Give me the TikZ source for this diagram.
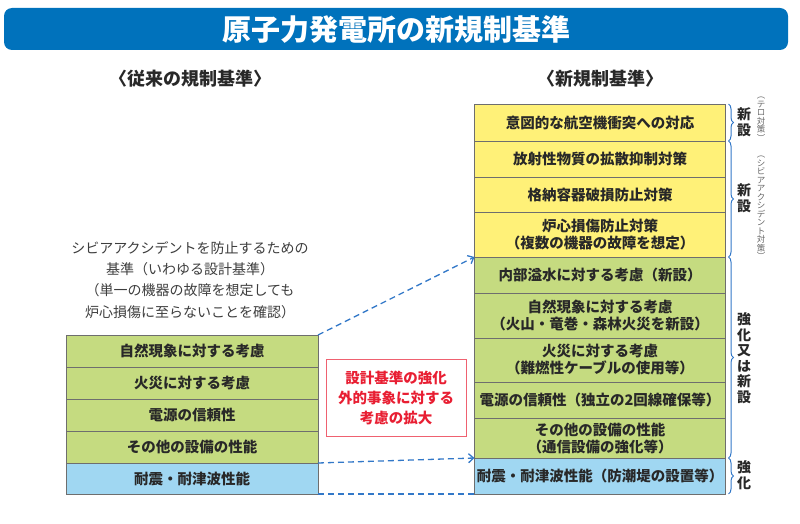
\documentclass[tikz,border=0pt]{standalone}
\usepackage{fontspec}
\setmainfont{Noto Sans CJK JP}
\usetikzlibrary{arrows.meta,positioning,decorations.pathreplacing}
\definecolor{titleblue}{RGB}{0,114,188}
\definecolor{ylw}{RGB}{255,241,120}
\definecolor{grn}{RGB}{197,219,128}
\definecolor{sky}{RGB}{160,215,242}
\definecolor{rim}{RGB}{110,110,110}
\definecolor{linkblue}{RGB}{50,120,200}
\definecolor{alertred}{RGB}{232,30,50}
\definecolor{txt}{RGB}{40,40,40}
\newcommand{\bx}{\fontsize{14.5}{17}\selectfont\bfseries}
\newcommand{\note}{\fontsize{14}{21.3}\selectfont}

\begin{document}
\begin{tikzpicture}[
  x=1pt, y=-1pt,
  >={Straight Barb[length=5pt,width=9pt]},
  cell/.style={draw=rim, line width=0.8pt, minimum width=251pt, inner sep=0pt, outer sep=0pt, align=center, font=\bx, text=txt},
  newrow/.style={cell, fill=ylw},
  oldrow/.style={cell, fill=grn},
  quake/.style={cell, fill=sky},
  link/.style={draw=linkblue, line width=1.3pt, dash pattern=on 6pt off 4pt},
  brc/.style={draw=linkblue, line width=1pt, decorate, decoration={brace, amplitude=5pt}},
  side/.style={font=\fontsize{14}{15.5}\selectfont\bfseries, text=txt, align=center, inner sep=0pt},
  tiny/.style={font=\fontsize{8.5}{8.5}\selectfont, text=gray!80!black, align=center, inner sep=0pt},
  head/.style={font=\fontsize{18}{20}\selectfont\bfseries, text=txt},
]
  \useasboundingbox (0,0) rectangle (800,524);

  % ---------------- title
  \node[fill=titleblue, rounded corners=8pt, minimum width=784pt, minimum height=42pt, text=white,
        font=\fontsize{29}{31}\selectfont\bfseries] (title) at (396,29) {原子力発電所の新規制基準};
  \node[head] (oldhd) at (190,79) {〈従来の規制基準〉};
  \node[head] (newhd) at (600,79) {〈新規制基準〉};

  % ---------------- new standard (right column)
  \node[newrow, anchor=north, minimum height=37pt] (n1) at (600,104) {意図的な航空機衝突への対応};
  \node[newrow, below=0pt of n1, minimum height=36pt] (n2) {放射性物質の拡散抑制対策};
  \node[newrow, below=0pt of n2, minimum height=35pt] (n3) {格納容器破損防止対策};
  \node[newrow, below=0pt of n3, minimum height=45pt] (n4) {炉心損傷防止対策\\（複数の機器の故障を想定）};
  \node[oldrow, below=0pt of n4, minimum height=36pt] (n5) {内部溢水に対する考慮（新設）};
  \node[oldrow, below=0pt of n5, minimum height=45pt] (n6) {自然現象に対する考慮\\（火山・竜巻・森林火災を新設）};
  \node[oldrow, below=0pt of n6, minimum height=44pt] (n7) {火災に対する考慮\\（難燃性ケーブルの使用等）};
  \node[oldrow, below=0pt of n7, minimum height=36pt] (n8) {電源の信頼性（独立の2回線確保等）};
  \node[oldrow, below=0pt of n8, minimum height=40pt] (n9) {その他の設備の性能\\（通信設備の強化等）};
  \node[quake, below=0pt of n9, minimum height=36pt] (n10) {耐震・耐津波性能（防潮堤の設置等）};

  % ---------------- braces and side labels
  \draw[brc] ([xshift=3pt]n1.north east) -- ([xshift=3pt]n1.south east);
  \draw[brc] ([xshift=3pt]n2.north east) -- ([xshift=3pt]n4.south east);
  \draw[brc] ([xshift=3pt]n5.north east) -- ([xshift=3pt]n9.south east);
  \draw[brc] ([xshift=3pt]n10.north east) -- ([xshift=3pt]n10.south east);
  \node[side] (tag1) at (744,122) {新\\設};
  \node[side] (tag2) at (744,198) {新\\設};
  \node[side] (tag3) at (744,358) {強\\化\\又\\は\\新\\設};
  \node[side] (tag4) at (744,475) {強\\化};
  \node[tiny] (terror) at (761,119) {︵\\テ\\ロ\\対\\策\\︶};
  \node[tiny] (severe) at (761,208) {︵\\シ\\ビ\\ア\\ア\\ク\\シ\\デ\\ン\\ト\\対\\策\\︶};

  % ---------------- old standard (left column)
  \node[font=\note, text=txt!90, align=center] (basis) at (190,280)
    {シビアアクシデントを防止するための\\基準（いわゆる設計基準）\\（単一の機器の故障を想定しても\\炉心損傷に至らないことを確認）};
  \node[oldrow, anchor=north, minimum width=252pt, minimum height=32pt] (o1) at (192,335) {自然現象に対する考慮};
  \node[oldrow, below=0pt of o1, minimum width=252pt, minimum height=32pt] (o2) {火災に対する考慮};
  \node[oldrow, below=0pt of o2, minimum width=252pt, minimum height=32pt] (o3) {電源の信頼性};
  \node[oldrow, below=0pt of o3, minimum width=252pt, minimum height=32pt] (o4) {その他の設備の性能};
  \node[quake, below=0pt of o4, minimum width=252pt, minimum height=31pt] (o5) {耐震・耐津波性能};

  % ---------------- links
  \node[draw=alertred!70, line width=1pt, minimum width=140pt, minimum height=77pt, text=alertred, align=center,
        font=\fontsize{14.5}{20}\selectfont\bfseries] (widen) at (396,397.5) {設計基準の強化\\外的事象に対する\\考慮の拡大};
  \draw[link, ->] (o1.north east) -- (n5.north west);
  \draw[link, ->] (o5.north east) -- (n10.north west);
  \draw[link] (o5.south east) -- (n10.south west);
\end{tikzpicture}
\end{document}
